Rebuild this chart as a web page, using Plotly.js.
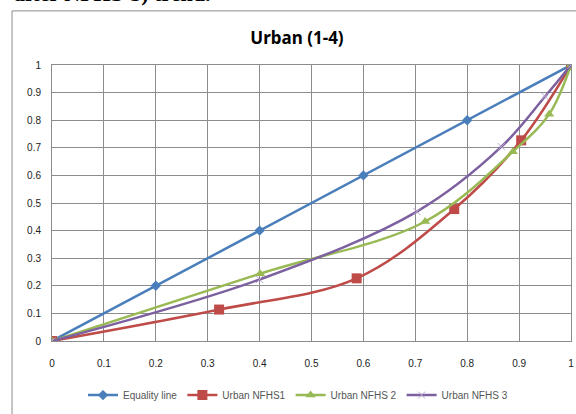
<!DOCTYPE html>
<html>
<head>
<meta charset="utf-8">
<script src="https://cdn.plot.ly/plotly-3.0.1.min.js"></script>
<style>html,body{margin:0;padding:0;background:#fff;}#chart{width:576px;height:414px;}</style>
</head>
<body>
<div id="chart"></div>
<script>
// Data
const equalityX = [0, 0.2, 0.4, 0.6, 0.8, 1];
const equalityY = [0, 0.2, 0.4, 0.6, 0.8, 1];
const nfhs1X = [0, 0.322, 0.587, 0.775, 0.904, 1];
const nfhs1Y = [0, 0.114, 0.227, 0.478, 0.727, 1];
const nfhs2X = [0, 0.401, 0.719, 0.888, 0.958, 1];
const nfhs2Y = [0, 0.244, 0.433, 0.686, 0.822, 1];
const nfhs3X = [0, 0.4, 0.703, 0.866, 0.95, 1];
const nfhs3Y = [0, 0.223, 0.469, 0.704, 0.886, 1];
const seriesNames = ["Equality line", "Urban NFHS1", "Urban NFHS 2", "Urban NFHS 3"];
const tickVals = [0, 0.1, 0.2, 0.3, 0.4, 0.5, 0.6, 0.7, 0.8, 0.9, 1];
const tickText = ["0", "0.1", "0.2", "0.3", "0.4", "0.5", "0.6", "0.7", "0.8", "0.9", "1"];
const chartTitle = "Urban (1-4)";
const clippedText = "after NFHS-3) trend.";

const traces = [
  {x: equalityX, y: equalityY, name: seriesNames[0], mode: "lines+markers",
   line: {color: "#4A7EBB", width: 2.5},
   marker: {symbol: "diamond", size: 8, color: "#4A7EBB"}},
  {x: nfhs1X, y: nfhs1Y, name: seriesNames[1], mode: "lines+markers",
   line: {color: "#BE4B48", width: 2.5, shape: "spline"},
   marker: {symbol: "square", size: 10, color: "#BE4B48"}},
  {x: nfhs2X, y: nfhs2Y, name: seriesNames[2], mode: "lines+markers",
   line: {color: "#98B954", width: 2.5, shape: "spline"},
   marker: {symbol: "triangle-up", size: 9, color: "#98B954"}},
  {x: nfhs3X, y: nfhs3Y, name: seriesNames[3], mode: "lines+markers",
   line: {color: "#7D60A0", width: 2.5, shape: "spline"},
   marker: {symbol: "x-thin-open", size: 7, color: "#B8A8CC", line: {width: 1, color: "#B8A8CC"}}}
];

const axisCommon = {
  range: [0, 1],
  tickvals: tickVals,
  ticktext: tickText,
  showgrid: true,
  gridcolor: "#8C8C8C",
  gridwidth: 1,
  zeroline: false,
  showline: true,
  linecolor: "#8C8C8C",
  linewidth: 1,
  ticks: "",
  tickfont: {family: "Liberation Sans, Arial, sans-serif", size: 10, color: "#222"},
  fixedrange: true
};

const layout = {
  width: 576, height: 414,
  margin: {l: 52, r: 5, t: 65, b: 68},
  paper_bgcolor: "#fff",
  plot_bgcolor: "#fff",
  title: {text: "<b>" + chartTitle + "</b>", x: 297 / 576, xanchor: "center", y: 1 - 38 / 414, yanchor: "middle",
          font: {family: "Noto Sans, Open Sans, sans-serif", size: 17, color: "#000"}},
  xaxis: Object.assign({}, axisCommon, {mirror: true, ticklabelstandoff: 13}),
  yaxis: Object.assign({}, axisCommon, {mirror: true, ticklabelstandoff: 8}),
  showlegend: true,
  legend: {orientation: "h", x: 0.474, xanchor: "center", y: -0.196, yanchor: "middle",
           font: {family: "Liberation Sans, Arial, sans-serif", size: 10, color: "#555"},
           bgcolor: "rgba(0,0,0,0)"},
  shapes: [
    {type: "rect", xref: "paper", yref: "paper", x0: -0.077, x1: 1.2, y0: -0.4, y1: 1.196,
     line: {color: "#8C8C8C", width: 1}, fillcolor: "rgba(0,0,0,0)", layer: "below"}
  ],
  annotations: [
    {text: "<b>" + clippedText + "</b>", xref: "paper", yref: "paper", x: -0.077, xanchor: "left",
     y: (346 - 7) / 281, yanchor: "bottom", showarrow: false,
     font: {family: "Liberation Serif, Times New Roman, serif", size: 22, color: "#000"}}
  ]
};

Plotly.newPlot("chart", traces, layout, {displayModeBar: false, staticPlot: true});
</script>
</body>
</html>
